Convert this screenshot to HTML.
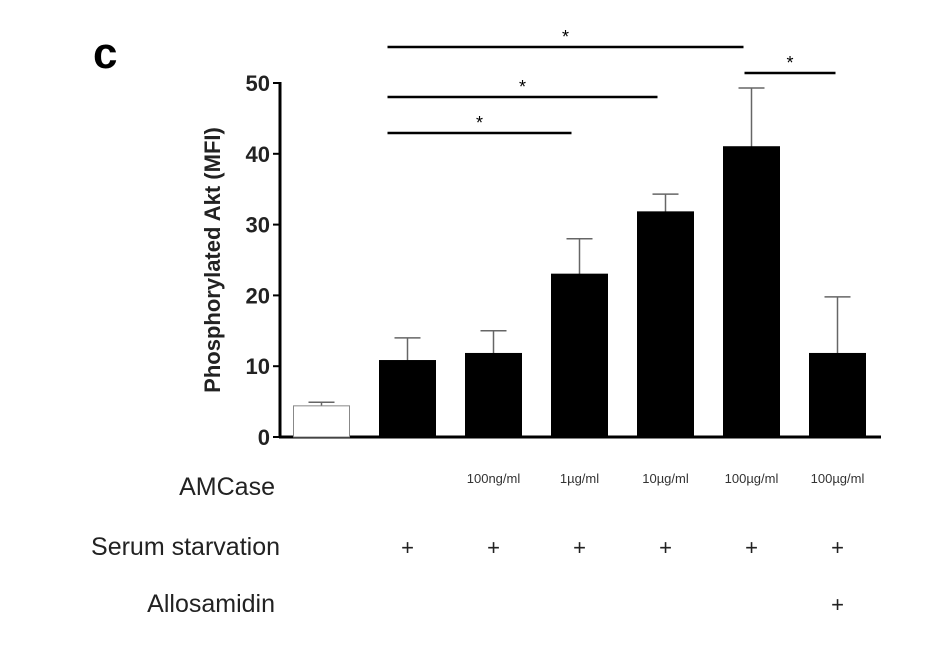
<!DOCTYPE html>
<html><head><meta charset="utf-8"><style>
body{margin:0;background:#fff;width:927px;height:661px;overflow:hidden;font-family:"Liberation Sans",Arial,sans-serif}
</style></head><body>
<svg width="927" height="661" viewBox="0 0 927 661" xmlns="http://www.w3.org/2000/svg" font-family="Liberation Sans, Arial, sans-serif">
<text x="93" y="68" font-size="44" font-weight="bold">c</text>
<g id="plot"></g>
<text transform="translate(220,260) rotate(-90)" text-anchor="middle" font-size="22" font-weight="bold" fill="#222">Phosphorylated Akt (MFI)</text>
<text x="275" y="495" text-anchor="end" font-size="25" fill="#222">AMCase</text>
<text x="280" y="555" text-anchor="end" font-size="25" fill="#222">Serum starvation</text>
<text x="275" y="612" text-anchor="end" font-size="25" fill="#222">Allosamidin</text>
</svg>
<script>
const categories=["control","serum","100ng/ml","1µg/ml","10µg/ml","100µg/ml","100µg/ml+allo"];
const values=[4.4,10.8,11.8,23,31.8,41,11.8];
const errors=[0.5,3.2,3.2,5,2.5,8.3,8];
const doseLabels=["","","100ng/ml","1µg/ml","10µg/ml","100µg/ml","100µg/ml"];
const serumRow=["","+","+","+","+","+","+"];
const alloRow=["","","","","","","+"];
const yTicks=[0,10,20,30,40,50];
const sigPairs=[[1,5],[1,4],[1,3],[5,6]];
const sigLevels=[47,97,133,73];
const NS="http://www.w3.org/2000/svg";
const g=document.getElementById('plot');
const y0=437,yTop=83,yMax=50;
function y(v){return y0-(y0-yTop)*v/yMax;}
function xc(i){return 321.5+i*86;}
const bw=56;
function mk(t,a,p){const e=document.createElementNS(NS,t);for(const k in a)e.setAttribute(k,a[k]);(p||g).appendChild(e);return e;}
let ax=mk('line',{x1:280,y1:y(50)-1,x2:280,y2:y0+1,stroke:'#000','stroke-width':3});


let bx=mk('line',{x1:279,y1:y0,x2:881,y2:y0,stroke:'#000','stroke-width':3});


yTicks.forEach(t=>{
 let l=mk('line',{x1:273,y1:y(t),x2:280,y2:y(t),stroke:'#000','stroke-width':2});
 
 
 let tx=mk('text',{x:270,y:y(t)+8,'text-anchor':'end','font-size':22,'font-weight':'bold',fill:'#222'});
 tx.textContent=t;
 
 
});
values.forEach((v,i)=>{
 const cx=xc(i),top=y(v+errors[i]);
 let el=mk('line',{x1:cx,y1:top,x2:cx,y2:y(v),stroke:'#666','stroke-width':1.5});
 
 
 let ec=mk('line',{x1:cx-13,y1:top,x2:cx+13,y2:top,stroke:'#666','stroke-width':1.5});
 
 
 let r=mk('rect',{x:cx-bw/2,y:y(v),width:bw,height:y0-y(v),fill:i===0?'#fff':'#000',stroke:i===0?'#888':'#000','stroke-width':1});
 
 
 if(doseLabels[i]){let d=mk('text',{x:cx,y:483,'text-anchor':'middle','font-size':13,fill:'#333'});d.textContent=doseLabels[i];
 
 }
 if(serumRow[i]){let d=mk('text',{x:cx,y:555,'text-anchor':'middle','font-size':22,fill:'#222'});d.textContent=serumRow[i];
 
 }
 if(alloRow[i]){let d=mk('text',{x:cx,y:612,'text-anchor':'middle','font-size':22,fill:'#222'});d.textContent=alloRow[i];
 
 }
});
sigPairs.forEach((p,k)=>{
 const x1=p[0]===5?xc(5)-7:xc(p[0])-20,x2=p[1]===6?xc(6)-2:xc(p[1])-8,yy=sigLevels[k];
 let l=mk('line',{x1:x1,y1:yy,x2:x2,y2:yy,stroke:'#000','stroke-width':2.5});
 
 
 let s=mk('text',{x:(x1+x2)/2,y:yy-4,'text-anchor':'middle','font-size':18,fill:'#000'});
 s.textContent='*';
 
 
});
</script>
</body></html>
